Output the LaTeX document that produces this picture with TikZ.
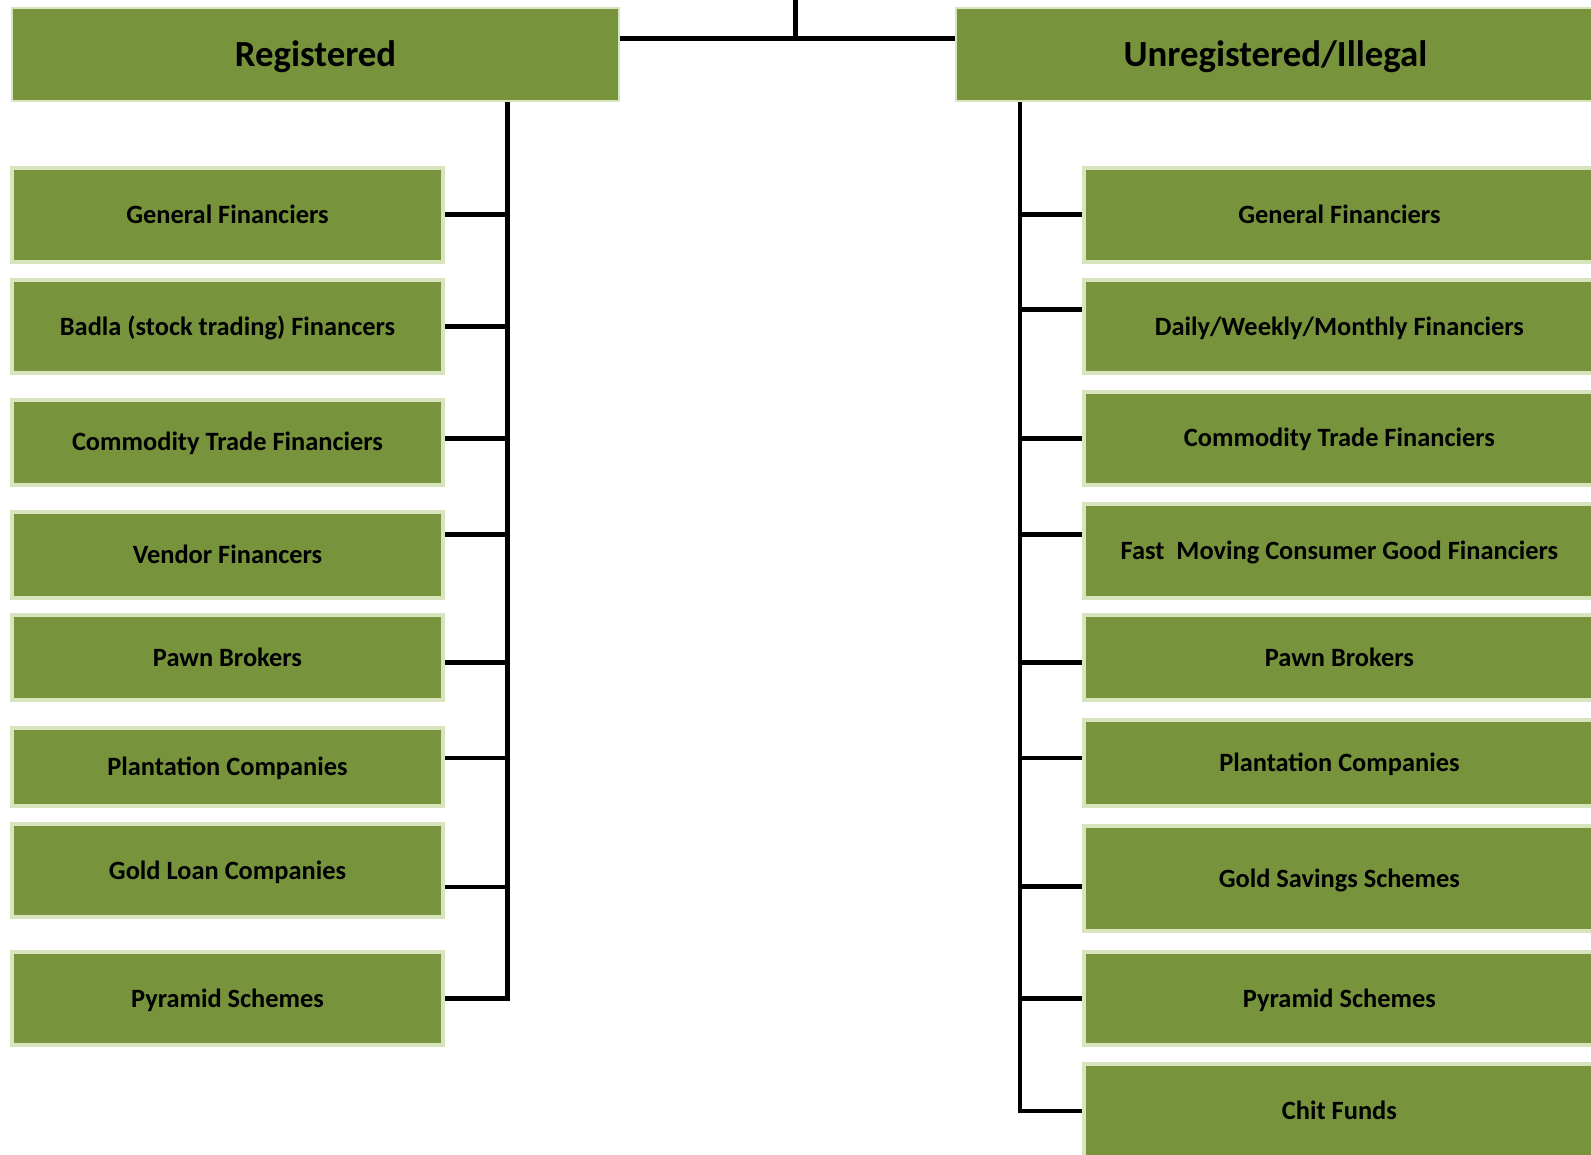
\documentclass[tikz,border=0pt]{standalone}
\usepackage{fontspec}
\setmainfont{Carlito}
\usetikzlibrary{positioning}

\definecolor{olive}{HTML}{77933C}
\definecolor{paleolive}{HTML}{D7E4BD}

\tikzset{
  head/.style={draw=paleolive, line width=1pt, fill=olive, inner sep=0pt,
    text height=11.8pt, text depth=0pt,
    minimum width=303.4pt, minimum height=46.7pt, font=\bfseries\fontsize{18.4}{21}\selectfont},
  leaf/.style={draw=paleolive, line width=2pt, fill=olive, inner sep=0pt,
    text height=8.5pt, text depth=0pt,
    minimum width=215.5pt, font=\bfseries\fontsize{13.2}{15}\selectfont},
  rleaf/.style={leaf, minimum width=255.7pt},
  link/.style={line width=2.3pt, black}
}

\begin{document}
\begin{tikzpicture}[x=0.5pt, y=-0.5pt]
  \useasboundingbox (0,0) rectangle (1591,1155);

  % the two groups
  \node[head] (reg) at (315.6,54.8) {Registered};
  \node[head, minimum width=319.5pt] (unreg) at (1275.5,54.8) {Unregistered/Illegal};

  % registered lenders
  \node[leaf, minimum height=47pt]   (r1) at (227.5,214.6) {General Financiers};
  \node[leaf, minimum height=46.7pt] (r2) at (227.5,326.7) {Badla (stock trading) Financers};
  \node[leaf, minimum height=42.6pt] (r3) at (227.5,442.4) {Commodity Trade Financiers};
  \node[leaf, minimum height=42.6pt] (r4) at (227.5,555)   {Vendor Financers};
  \node[leaf, minimum height=42.6pt] (r5) at (227.5,657.5) {Pawn Brokers};
  \node[leaf, minimum height=39pt]   (r6) at (227.5,766.6) {Plantation Companies};
  \node[leaf, minimum height=46.7pt] (r7) at (227.5,870.6) {Gold Loan Companies};
  \node[leaf, minimum height=46.7pt] (r8) at (227.5,998.5) {Pyramid Schemes};

  % unregistered lenders
  \node[rleaf, minimum height=47pt]   (u1) at (1339.4,214.6) {General Financiers};
  \node[rleaf, minimum height=46.7pt] (u2) at (1339.4,326.7) {Daily/Weekly/Monthly Financiers};
  \node[rleaf, minimum height=46.7pt] (u3) at (1339.4,438.3) {Commodity Trade Financiers};
  \node[rleaf, minimum height=46.7pt] (u4) at (1339.4,551)   {Fast~ Moving Consumer Good Financiers};
  \node[rleaf, minimum height=42.6pt] (u5) at (1339.4,657.5) {Pawn Brokers};
  \node[rleaf, minimum height=42.6pt] (u6) at (1339.4,763)   {Plantation Companies};
  \node[rleaf, minimum height=52.7pt] (u7) at (1339.4,878.7) {Gold Savings Schemes};
  \node[rleaf, minimum height=46.7pt] (u8) at (1339.4,998.5) {Pyramid Schemes};
  \node[rleaf, minimum height=46.7pt] (u9) at (1339.4,1111)  {Chit Funds};

  % top bar joining the groups
  \coordinate (top) at (795.5,38.6);
  \coordinate (root) at (795.5,0);
  \draw[link] (reg.east |- top) -- (unreg.west |- top);
  \draw[link] (top) -- (root);

  % left trunk
  \coordinate (lt) at (507.4,102.5);
  \draw[link] (lt) |- (r8.east);
  \draw[link] (r1.east) -- (r1.east -| lt);
  \draw[link] (r2.east) -- (r2.east -| lt);
  \draw[link] ([yshift=2pt]r3.east) -- ([yshift=2pt]r3.east -| lt);
  \draw[link] ([yshift=10.2pt]r4.east) -- ([yshift=10.2pt]r4.east -| lt);
  \draw[link] ([yshift=-2.5pt]r5.east) -- ([yshift=-2.5pt]r5.east -| lt);
  \draw[link] ([yshift=4.3pt]r6.east) -- ([yshift=4.3pt]r6.east -| lt);
  \draw[link] ([yshift=-8.1pt]r7.east) -- ([yshift=-8.1pt]r7.east -| lt);

  % right trunk
  \coordinate (rt) at (1019.8,102.5);
  \draw[link] (rt) |- (u9.west);
  \draw[link] (u1.west) -- (u1.west -| rt);
  \draw[link] ([yshift=8.6pt]u2.west) -- ([yshift=8.6pt]u2.west -| rt);
  \draw[link] (u3.west) -- (u3.west -| rt);
  \draw[link] ([yshift=8.2pt]u4.west) -- ([yshift=8.2pt]u4.west -| rt);
  \draw[link] ([yshift=-2.5pt]u5.west) -- ([yshift=-2.5pt]u5.west -| rt);
  \draw[link] ([yshift=2.5pt]u6.west) -- ([yshift=2.5pt]u6.west -| rt);
  \draw[link] ([yshift=-4pt]u7.west) -- ([yshift=-4pt]u7.west -| rt);
  \draw[link] (u8.west) -- (u8.west -| rt);

\end{tikzpicture}
\end{document}
